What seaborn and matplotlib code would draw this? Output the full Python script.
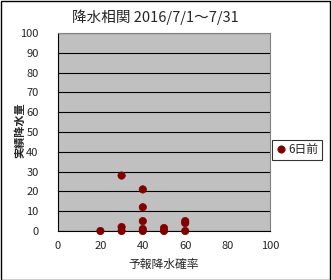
import matplotlib
matplotlib.use("Agg")
import matplotlib.pyplot as plt
import seaborn as sns
import pandas as pd

forecast_prob = [20, 30, 30, 30, 40, 40, 40, 40, 40, 50, 50, 60, 60, 60]
actual_rain = [0, 28, 0, 2, 21, 12, 5, 0, 1, 0, 1.5, 0, 4, 5]
series_name = "6日前"
title = "降水相関 2016/7/1～7/31"
xlabel = "予報降水確率"
ylabel = "実績降水量"
ticks = [0, 20, 40, 60, 80, 100]
yticks = list(range(0, 101, 10))

sns.set_theme(style="white")
plt.rcParams['font.family'] = ['Noto Sans CJK JP', 'DejaVu Sans']

df = pd.DataFrame({"x": forecast_prob, "y": actual_rain, "s": series_name})

fig = plt.figure(figsize=(3.31, 2.80), dpi=100)
fig.patch.set_facecolor("white")
W, H = 331, 280
ax = fig.add_axes([58 / W, 1 - 231 / H, (270 - 58) / W, (231 - 33) / H])
ax.set_facecolor("#C0C0C0")

sns.scatterplot(data=df, x="x", y="y", hue="s", palette=["#800000"], s=28,
                edgecolor="#800000", linewidth=0.5, ax=ax, clip_on=False, zorder=3)

ax.set_xlim(0, 100)
ax.set_ylim(0, 100)
ax.set_xticks(ticks)
ax.set_yticks(yticks)
ax.tick_params(direction="in", length=3, width=0.8, labelsize=8, color="black")
ax.tick_params(axis="y", pad=14)
ax.tick_params(axis="x", pad=7)
ax.yaxis.grid(True, color="black", linewidth=0.8)
ax.set_axisbelow(True)
for side in ["left", "bottom"]:
    ax.spines[side].set_color("black")
    ax.spines[side].set_linewidth(0.8)
for side in ["top", "right"]:
    ax.spines[side].set_color("#808080")
    ax.spines[side].set_linewidth(0.8)

ax.set_xlabel(xlabel, fontsize=8.5)
ax.set_ylabel(ylabel, fontsize=8, fontweight="bold")
ax.xaxis.set_label_coords(0.5, (231 - 264) / 198)
ax.xaxis.label.set_va("center")
ax.yaxis.set_label_coords((20 - 58) / 212, (231 - 130) / 198)
ax.yaxis.label.set_va("center")
fig.text(155 / W, 1 - 17 / H, title, ha="center", va="center", fontsize=10.5)

leg = ax.legend(loc="center left", bbox_to_anchor=(1.009, 0.41), frameon=True,
                fontsize=8.5, handletextpad=0.1, borderpad=0.3, handlelength=1.0,
                fancybox=False, markerscale=1.0, borderaxespad=0)
leg.get_frame().set_edgecolor("black")
leg.get_frame().set_linewidth(0.8)

border = plt.Rectangle((0.5 / W, 0.5 / H), 1 - 1.5 / W, 1 - 1.5 / H, transform=fig.transFigure,
                       fill=False, edgecolor="black", linewidth=1)
fig.add_artist(border)

fig.savefig("out.png", dpi=100)
